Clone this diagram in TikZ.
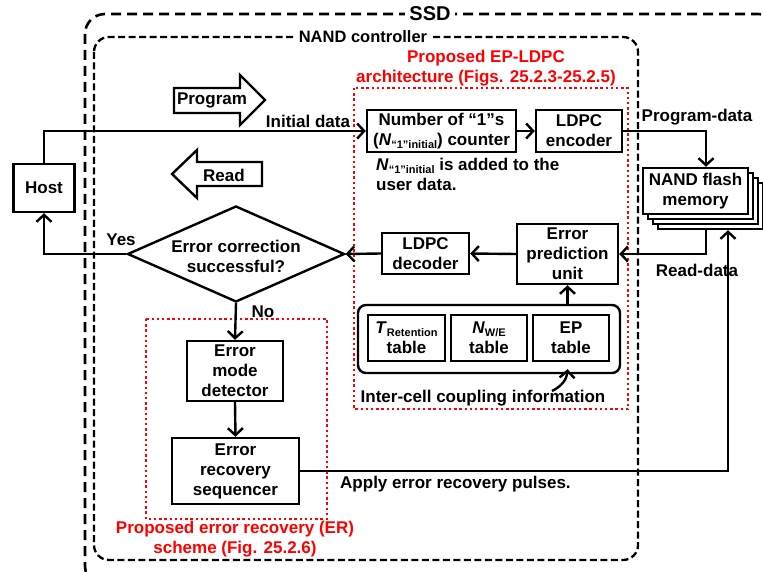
\documentclass[tikz,border=0pt]{standalone}
\usepackage{fontspec}
\setmainfont{Liberation Sans}
\usetikzlibrary{arrows.meta,shapes.geometric}

% small lowered text for subscripts such as N_{W/E}
\newcommand{\lowsub}[1]{\raisebox{-0.35ex}{\fontsize{11}{11}\selectfont #1}}

\begin{document}
\begin{tikzpicture}[x=1pt,y=-1pt,
  every node/.style={font=\bfseries\fontsize{17}{20}\selectfont, inner sep=0pt},
  blk/.style={draw, line width=2.4pt, align=center, fill=white},
  conn/.style={line width=2.4pt, -{Straight Barb[length=7pt,width=15pt]}},
  redtitle/.style={text=red, align=center},
  ssdbox/.style={line width=2.6pt, dash pattern=on 10pt off 6pt, rounded corners=20pt},
  ncbox/.style={line width=2.3pt, dash pattern=on 7pt off 3.5pt, rounded corners=15pt},
  redbox/.style={draw=red, line width=2.4pt, dash pattern=on 2.4pt off 2.8pt},
  bigarrow/.style={draw, line width=2.4pt, fill=white, line join=miter},
]
\useasboundingbox (0,0) rectangle (763,572);

% enclosing SSD and controller frames
\draw[ssdbox] (85,14) rectangle (778,586);
\node[fill=white, inner xsep=4pt, font=\bfseries\fontsize{20}{22}\selectfont] (ssd) at (430,14) {SSD};
\draw[ncbox] (94,37) rectangle (638,560);
\node[fill=white, inner xsep=4pt, font=\bfseries\fontsize{16.5}{19}\selectfont] (nc) at (363,37) {NAND controller};

% proposed blocks (red dotted)
\draw[redbox] (354,88) rectangle (628,409);
\node[redtitle] (eptitle) at (486,68) {Proposed EP-LDPC\\architecture (Figs. 25.2.3-25.2.5)};
\draw[redbox] (146,319) rectangle (327,519);
\node[redtitle] (ertitle) at (235,539) {Proposed error recovery (ER)\\scheme (Fig. 25.2.6)};

% Program / Read block arrows
\draw[bigarrow] (174,88) -- (240,88) -- (240,75) -- (265,100) -- (240,125) -- (240,113) -- (174,113) -- cycle;
\node (prog) at (212,100) {Program};
\draw[bigarrow] (262,162) -- (197,162) -- (197,150) -- (172,174) -- (197,198) -- (197,186) -- (262,186) -- cycle;
\node (read) at (224,175) {Read};

% blocks
\node[blk, minimum width=61pt, minimum height=48pt] (host) at (44,188) {Host};
\node[blk, minimum width=149pt, minimum height=42pt] (counter) at (441.5,131)
  {Number of “1”s\\(\textit{N}\lowsub{“1”initial}) counter};
\node[blk, minimum width=86pt, minimum height=42pt] (enc) at (579,131) {LDPC\\encoder};

\node[blk, minimum width=105pt, minimum height=46pt] (nand3) at (710.5,206) {};
\node[blk, minimum width=105pt, minimum height=46pt] (nand2) at (705.5,201) {};
\node[blk, minimum width=105pt, minimum height=46pt] (nand1) at (700.5,196) {};
\node[blk, minimum width=105pt, minimum height=46pt] (nand) at (695.5,191) {NAND flash\\memory};

\node[blk, minimum width=101pt, minimum height=60pt] (epu) at (567.5,254) {Error\\prediction\\unit};
\node[blk, minimum width=87pt, minimum height=41pt] (dec) at (425.5,253.5) {LDPC\\decoder};

\node[diamond, draw, line width=2.4pt, minimum width=217pt, minimum height=96pt] (dia) at (236,254) {};
\node[align=center] (diatext) at (236,256) {Error correction\\successful?};

\node[blk, minimum width=96pt, minimum height=60pt] (emd) at (235,371) {Error\\mode\\detector};
\node[blk, minimum width=127pt, minimum height=66pt] (ers) at (235.5,471) {Error\\recovery\\sequencer};

\node[draw, line width=2.4pt, rounded corners=8pt, minimum width=262pt, minimum height=68pt] (tables) at (489,339) {};
\node[blk, minimum width=77pt, minimum height=46pt] (ttab) at (406.5,338) {\textit{T}\lowsub{Retention}\\table};
\node[blk, minimum width=76pt, minimum height=46pt] (ntab) at (489,338) {\textit{N}\lowsub{W/E}\\table};
\node[blk, minimum width=76pt, minimum height=46pt] (eptab) at (571,338) {EP\\table};

% labels
\node (initlbl) at (308,121) {Initial data};
\node[align=left, anchor=north west] (addlbl) at (376,158) {\textit{N}\lowsub{“1”initial} is added to the\\user data.};
\node (pdlbl) at (697,117) {Program-data};
\node (rdlbl) at (697,270) {Read-data};
\node (yeslbl) at (121,240) {Yes};
\node (nolbl) at (263,312) {No};
\node[anchor=west] (aplbl) at (340,484) {Apply error recovery pulses.};
\node (info) at (483,398) {Inter-cell coupling information};

% connectors
\draw[conn] (host.north) |- (counter.west);
\draw[conn] (counter.east) -- (enc.west);
\draw[conn] (enc.east) -| ([xshift=10.5pt]nand.north);
\draw[conn] ([xshift=10.5pt,yshift=-15pt]nand.south) |- (epu.east);
\draw[conn] (epu.west) -- (dec.east);
\draw[conn] (dec.west) -- (dia.east);
\draw[conn] (dia.west) -| (host.south);
\draw[conn] (dia.south) -- (emd.north);
\draw[conn] (emd.south) -- (ers.north);
\draw[conn] (ers.east) -| ([xshift=32.5pt,yshift=-15pt]nand.south);
\draw[conn] (tables.north -| epu.south) -- (epu.south);
\coordinate (infotop) at (552,391);
\draw[conn] (infotop) .. controls (562,386) and (567,379) .. ([yshift=5pt]tables.south -| 567.5,0);
\end{tikzpicture}
\end{document}
